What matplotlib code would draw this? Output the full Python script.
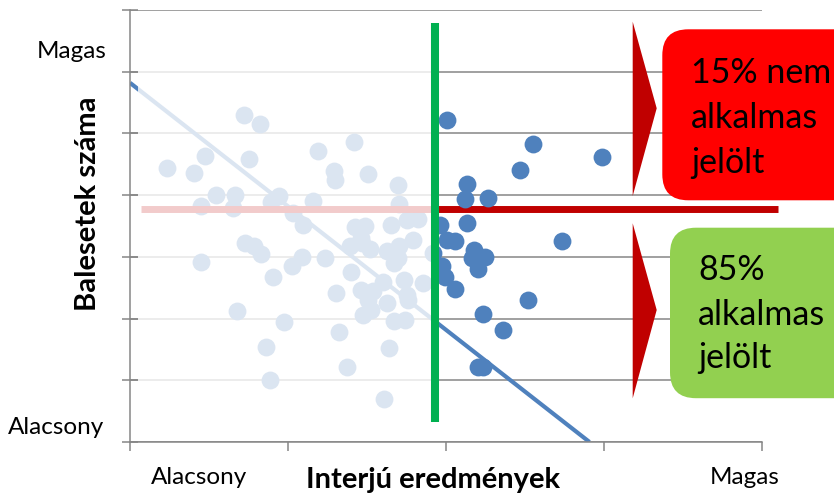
import matplotlib
matplotlib.use("Agg")
import matplotlib.pyplot as plt
from matplotlib.patches import Rectangle, FancyBboxPatch, Polygon

plt.rcParams['font.family'] = ['Lato', 'DejaVu Sans']

# ---- data (x: interview score 0-100, y: accident count 0-70) ----
light_x = [18.0, 20.5, 11.9, 18.8, 5.8, 10.2, 13.6, 16.6, 11.2, 16.3, 23.6, 22.3, 25.8, 27.4,
           29.7, 35.5, 32.2, 32.5, 37.6, 42.4, 29.0, 42.5, 35.6, 37.2, 41.3, 43.8, 45.6, 36.6,
           34.8, 36.7, 37.9, 40.7, 42.5, 44.8, 47.9, 18.2, 19.6, 20.7, 11.2, 27.2, 25.6, 30.9,
           22.6, 35.0, 41.8, 42.4, 32.6, 36.6, 38.4, 37.7, 40.6, 43.4, 43.8, 44.0, 46.4, 40.0,
           36.8, 38.1, 41.7, 43.5, 17.0, 24.4, 33.0, 21.5, 41.0, 34.4, 22.2, 40.2]
light_y = [53.0, 51.6, 46.4, 45.8, 44.4, 43.6, 40.0, 40.1, 38.3, 37.9, 39.9, 38.9, 37.1, 35.2,
           47.2, 48.6, 43.9, 42.4, 43.5, 41.7, 39.0, 38.6, 34.8, 35.0, 35.1, 36.0, 36.2, 33.0,
           31.8, 32.2, 31.2, 30.9, 31.7, 32.7, 30.7, 32.3, 31.7, 30.5, 29.2, 30.0, 28.5, 29.8,
           26.8, 27.6, 29.0, 29.8, 24.1, 24.6, 24.5, 23.0, 22.5, 26.3, 23.8, 23.0, 25.8, 25.9,
           20.6, 21.4, 19.6, 19.8, 21.2, 19.4, 17.8, 15.4, 15.3, 12.2, 10.0, 7.0]
dark_x = [50.2, 63.8, 74.7, 61.7, 53.3, 53.0, 56.6, 53.3, 49.1, 50.1, 51.4, 68.3, 54.5, 54.1,
          56.1, 55.1, 49.4, 49.8, 51.5, 62.9, 55.9, 59.0, 55.0, 55.9]
dark_y = [52.2, 48.3, 46.2, 44.1, 41.8, 39.4, 39.5, 35.5, 35.1, 32.7, 32.5, 32.6, 31.1, 29.8,
          30.0, 28.0, 28.5, 26.7, 24.8, 23.0, 20.8, 18.2, 12.2, 12.2]

trend_x = [0.0, 72.7]
trend_y = [58.2, 0.0]
threshold_x = 48.3          # interview cut-off (green line)
threshold_y = 37.8          # accident cut-off (red line)

x_ticks = [0, 25, 50, 75, 100]
y_ticks = [0, 10, 20, 30, 40, 50, 60, 70]

box_top_lines = ["15% nem", "alkalmas", "jelölt"]
box_bottom_lines = ["85%", "alkalmas", "jelölt"]

# ---- figure ----
W, H = 834, 495
fig = plt.figure(figsize=(W / 100, H / 100), dpi=100)
ax = fig.add_axes([130 / W, 53 / H, 632 / W, 432 / H])
ax.set_xlim(0, 100)
ax.set_ylim(0, 70)

grey = '#868686'
ax.set_xticks(x_ticks)
ax.set_yticks(y_ticks)
ax.set_xticklabels([])
ax.set_yticklabels([])
ax.tick_params(axis='x', direction='out', length=6.5, width=1.1, color=grey)
ax.tick_params(axis='y', direction='inout', length=12, width=1.1, color=grey)
ax.yaxis.grid(True, color=grey, linewidth=1.1)
ax.set_axisbelow(True)
for s in ['top', 'right']:
    ax.spines[s].set_visible(False)
for s in ['left', 'bottom']:
    ax.spines[s].set_color(grey)
    ax.spines[s].set_linewidth(1.1)

blue = '#4f81bd'
ax.plot(trend_x, trend_y, color=blue, linewidth=3, zorder=2, solid_capstyle='butt')
ax.scatter(light_x, light_y, s=165, color=blue, linewidths=0, zorder=2.5)
ax.plot([1.74, 102.5], [threshold_y, threshold_y], color='#c00000', linewidth=5,
        zorder=2.6, solid_capstyle='butt', clip_on=False)
# white veil over the left (rejected) region
ax.add_patch(Rectangle((1.27, 1.0), threshold_x - 1.27, 68.0, facecolor='white',
                       edgecolor='none', alpha=0.8, zorder=3))
ax.scatter(dark_x, dark_y, s=165, color=blue, linewidths=0, zorder=4)
ax.plot([threshold_x, threshold_x], [3.2, 67.9], color='#00b050', linewidth=5.8,
        zorder=5, solid_capstyle='butt')

# ---- overlay in pixel coordinates for annotations ----
ov = fig.add_axes([0, 0, 1, 1], zorder=10)
ov.set_xlim(0, W)
ov.set_ylim(H, 0)
ov.axis('off')
ov.patch.set_alpha(0)

ov.add_patch(Polygon([(632.7, 21.7), (656.7, 108.3), (632.7, 196)], closed=True,
                     facecolor='#c00000', edgecolor='none'))
ov.add_patch(Polygon([(632.7, 223.3), (656.7, 310), (632.7, 398.3)], closed=True,
                     facecolor='#c00000', edgecolor='none'))
ov.add_patch(FancyBboxPatch((662.3, 29.3), 220, 171, boxstyle='round,pad=0,rounding_size=26',
                            facecolor='#ff0000', edgecolor='none', clip_on=False))
ov.add_patch(FancyBboxPatch((670, 227.7), 220, 170.5, boxstyle='round,pad=0,rounding_size=26',
                            facecolor='#92d050', edgecolor='none', clip_on=False))

for txt, yb in zip(box_top_lines, [82.7, 128.3, 173.3]):
    ov.text(691, yb, txt, fontsize=24.5, va='baseline', ha='left')
for txt, yb in zip(box_bottom_lines, [280, 325, 368]):
    ov.text(698, yb, txt, fontsize=24.5, va='baseline', ha='left')

ov.text(106.7, 52, 'Magas', fontsize=17.5, ha='right', va='center')
ov.text(104, 428, 'Alacsony', fontsize=17.5, ha='right', va='center')
ov.text(199, 478, 'Alacsony', fontsize=17.5, ha='center', va='center')
ov.text(745, 478, 'Magas', fontsize=17.5, ha='center', va='center')
ov.text(433, 480, 'Interjú eredmények', fontsize=21, fontweight='bold', ha='center', va='center')
ov.text(88, 204, 'Balesetek száma', fontsize=21, fontweight='bold', ha='center', va='center',
        rotation=90)

fig.savefig('out.png', dpi=100)
